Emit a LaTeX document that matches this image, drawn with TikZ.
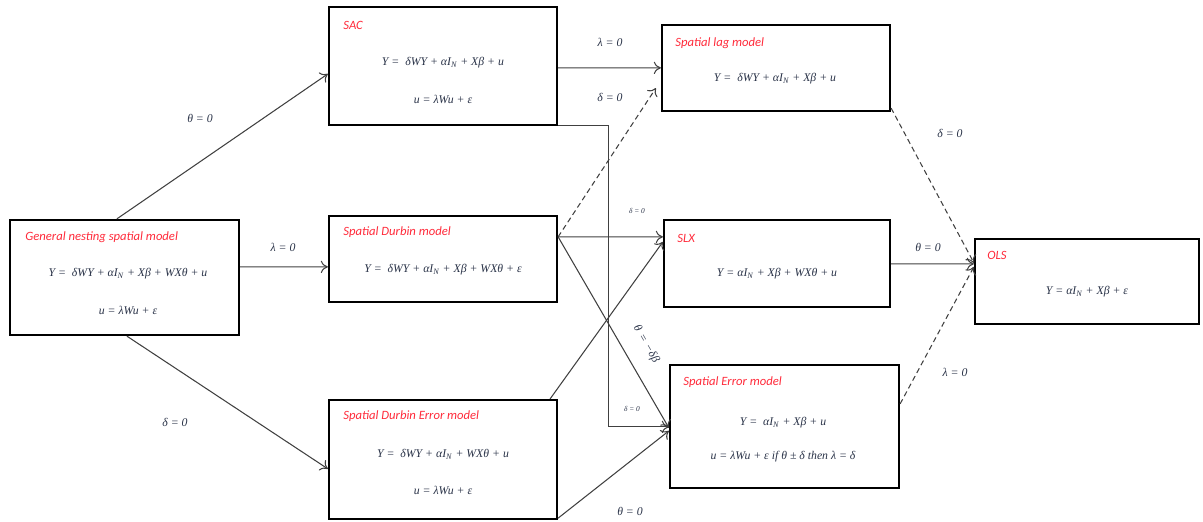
\documentclass[tikz,border=0pt]{standalone}
\usepackage{fontspec}
\newfontfamily\eqf{Liberation Serif}
\newfontfamily\ttf{Carlito}
\usetikzlibrary{arrows.meta,calc}
\definecolor{ttl}{HTML}{FF2A3A}
\definecolor{eqc}{HTML}{2A3348}
\newcommand{\sub}[1]{\textsubscript{#1}}
\tikzset{
  mbox/.style={draw=black, line width=1.3pt, rectangle, inner sep=0pt},
  ttlnode/.style={anchor=west, text=ttl, font=\ttf\fontsize{7.2}{8}\selectfont\itshape, inner sep=0pt},
  eqnode/.style={text=eqc, font=\eqf\fontsize{6.7}{8}\selectfont\itshape, inner sep=0pt},
  lblnode/.style={text=eqc, font=\eqf\fontsize{6.7}{8}\selectfont\itshape, inner sep=0pt},
  tinylbl/.style={text=eqc, font=\eqf\fontsize{4.2}{5}\selectfont\itshape, inner sep=0pt},
  conn/.style={draw=black!75, line width=0.6pt, -{To[length=4pt,width=7pt]}},
  dconn/.style={conn, densely dashed},
}
\begin{document}
\begin{tikzpicture}[x=0.02cm,y=-0.02cm]
\useasboundingbox (0,0) rectangle (1203,521);
% boxes
\node[mbox, minimum width=4.58cm, minimum height=2.30cm] (gnsm) at (124.5,277.5) {};
\node[mbox, minimum width=4.56cm, minimum height=2.36cm] (sac) at (443,66) {};
\node[mbox, minimum width=4.56cm, minimum height=1.72cm] (sdm) at (443,259) {};
\node[mbox, minimum width=4.56cm, minimum height=2.38cm] (sdem) at (443,459.5) {};
\node[mbox, minimum width=4.56cm, minimum height=1.72cm] (slag) at (776,68) {};
\node[mbox, minimum width=4.52cm, minimum height=1.74cm] (slx) at (777,263.5) {};
\node[mbox, minimum width=4.58cm, minimum height=2.46cm] (sem) at (784.5,426.5) {};
\node[mbox, minimum width=4.48cm, minimum height=1.70cm] (ols) at (1087,281.5) {};
% titles
\node[ttlnode] (gnsmt) at (25,237) {General nesting spatial model};
\node[ttlnode] (sact) at (343,25) {SAC};
\node[ttlnode] (sdmt) at (343,232) {Spatial Durbin model};
\node[ttlnode] (sdemt) at (343,416) {Spatial Durbin Error model};
\node[ttlnode] (slagt) at (675,43) {Spatial lag model};
\node[ttlnode] (slxt) at (677,238) {SLX};
\node[ttlnode] (semt) at (683,382) {Spatial Error model};
\node[ttlnode] (olst) at (987,255) {OLS};
% equations
\node[eqnode] (gnsme1) at (128,274) {Y =~ δWY + αI\sub{N} + Xβ + WXθ + u};
\node[eqnode] (gnsme2) at (128,310) {u = λWu + ε};
\node[eqnode] (sace1) at (443,63) {Y =~ δWY + αI\sub{N} + Xβ + u};
\node[eqnode] (sace2) at (443,99) {u = λWu + ε};
\node[eqnode] (sdme1) at (443,270) {Y =~ δWY + αI\sub{N} + Xβ + WXθ + ε};
\node[eqnode] (sdeme1) at (443,454) {Y =~ δWY + αI\sub{N} + WXθ + u};
\node[eqnode] (sdeme2) at (443,490) {u = λWu + ε};
\node[eqnode] (slage1) at (775,79) {Y =~ δWY + αI\sub{N} + Xβ + u};
\node[eqnode] (slxe1) at (777,274) {Y = αI\sub{N} + Xβ + WXθ + u};
\node[eqnode] (seme1) at (783,423) {Y =~ αI\sub{N} + Xβ + u};
\node[eqnode] (seme2) at (783,457) {u = λWu + ε if θ ± δ then λ = δ};
\node[eqnode] (olse1) at (1087,292) {Y = αI\sub{N} + Xβ + ε};
% connectors
\draw[conn] ($(gnsm.north west)+(108,0)$) -- ($(sac.north west)+(0,68)$);
\draw[conn] ($(gnsm.north east)+(0,48)$) -- ($(sdm.north west)+(0,52)$);
\draw[conn] ($(gnsm.south west)+(118,0)$) -- ($(sdem.north west)+(0,70)$);
\draw[conn] ($(sac.north east)+(0,62)$) -- ($(slag.north west)+(0,44)$);
\draw[conn] ($(sac.south east)+(0,-1)$) -- ($(sac.south east)+(50,-1)$) |- ($(sem.north west)+(0,63)$);
\draw[dconn] ($(sdm.north east)+(0,22)$) -- ($(slag.south west)+(-5,-24)$);
\draw[conn] ($(sdm.north east)+(0,22)$) -- ($(slx.north west)+(0,18)$);
\draw[conn] ($(sdm.north east)+(0,22)$) -- ($(sem.north west)+(0,64)$);
\draw[conn] ($(sdem.north east)+(-8,0)$) -- ($(slx.north west)+(0,23)$);
\draw[conn] ($(sdem.south east)+(0,-2)$) -- ($(sem.north west)+(0,67)$);
\draw[dconn] ($(slag.south east)+(0,-4)$) -- ($(ols.north west)+(0,25)$);
\draw[conn] ($(slx.north east)+(0,45)$) -- ($(ols.north west)+(0,26)$);
\draw[dconn] ($(sem.north east)+(0,40)$) -- ($(ols.north west)+(0,29)$);
% labels
\node[lblnode] (l1) at (200,118) {θ = 0};
\node[lblnode] (l2) at (283,247) {λ = 0};
\node[lblnode] (l3) at (175,422) {δ = 0};
\node[lblnode] (l4) at (610,42) {λ = 0};
\node[lblnode] (l5) at (610,97) {δ = 0};
\node[tinylbl] (l6) at (637,211) {δ = 0};
\node[lblnode, rotate=-60] (l7) at (646,344) {θ\hspace{2.2pt}=\hspace{2.2pt}−δβ};
\node[tinylbl] (l8) at (632,409) {δ = 0};
\node[lblnode] (l9) at (630,511) {θ = 0};
\node[lblnode] (l10) at (950,133) {δ = 0};
\node[lblnode] (l11) at (928,247) {θ = 0};
\node[lblnode] (l12) at (955,372) {λ = 0};
\end{tikzpicture}
\end{document}
